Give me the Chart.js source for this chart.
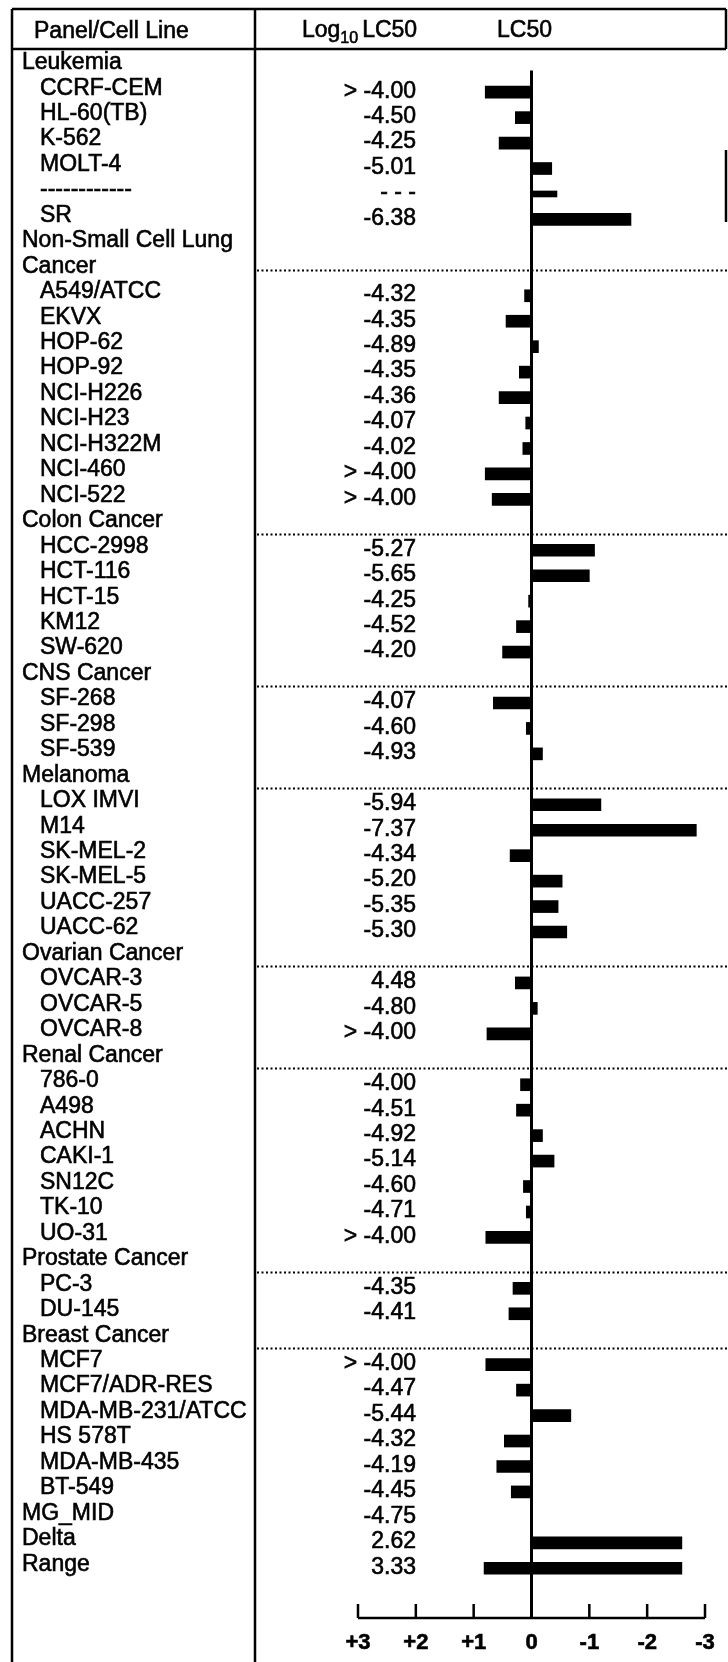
<!DOCTYPE html>
<html>
<head>
<meta charset="utf-8">
<script src="https://cdn.jsdelivr.net/npm/chart.js@4.4.1/dist/chart.umd.min.js"></script>
<style>
  body { margin: 0; background: #fff; }
  #wrap { width: 728px; height: 1662px; }
</style>
</head>
<body>
<div id="wrap"><canvas id="meanGraph" width="728" height="1662"></canvas></div>
<script>
// rows of the table, top to bottom
const rowLabels = [
  'Leukemia', 'CCRF-CEM', 'HL-60(TB)', 'K-562', 'MOLT-4', '------------', 'SR',
  'Non-Small Cell Lung', 'Cancer', 'A549/ATCC', 'EKVX', 'HOP-62', 'HOP-92', 'NCI-H226',
  'NCI-H23', 'NCI-H322M', 'NCI-460', 'NCI-522',
  'Colon Cancer', 'HCC-2998', 'HCT-116', 'HCT-15', 'KM12', 'SW-620',
  'CNS Cancer', 'SF-268', 'SF-298', 'SF-539',
  'Melanoma', 'LOX IMVI', 'M14', 'SK-MEL-2', 'SK-MEL-5', 'UACC-257', 'UACC-62',
  'Ovarian Cancer', 'OVCAR-3', 'OVCAR-5', 'OVCAR-8',
  'Renal Cancer', '786-0', 'A498', 'ACHN', 'CAKI-1', 'SN12C', 'TK-10', 'UO-31',
  'Prostate Cancer', 'PC-3', 'DU-145',
  'Breast Cancer', 'MCF7', 'MCF7/ADR-RES', 'MDA-MB-231/ATCC', 'HS 578T', 'MDA-MB-435', 'BT-549',
  'MG_MID', 'Delta', 'Range'
];

const panelNames = [
  'Leukemia', 'Non-Small Cell Lung', 'Cancer', 'Colon Cancer', 'CNS Cancer', 'Melanoma',
  'Ovarian Cancer', 'Renal Cancer', 'Prostate Cancer', 'Breast Cancer', 'MG_MID', 'Delta', 'Range'
];

// Log10 LC50 column, as printed
const logLC50 = [
  '', '> -4.00', '-4.50', '-4.25', '-5.01', '- - -', '-6.38',
  '', '', '-4.32', '-4.35', '-4.89', '-4.35', '-4.36', '-4.07', '-4.02', '> -4.00', '> -4.00',
  '', '-5.27', '-5.65', '-4.25', '-4.52', '-4.20',
  '', '-4.07', '-4.60', '-4.93',
  '', '-5.94', '-7.37', '-4.34', '-5.20', '-5.35', '-5.30',
  '', '4.48', '-4.80', '> -4.00',
  '', '-4.00', '-4.51', '-4.92', '-5.14', '-4.60', '-4.71', '> -4.00',
  '', '-4.35', '-4.41',
  '', '> -4.00', '-4.47', '-5.44', '-4.32', '-4.19', '-4.45',
  '-4.75', '2.62', '3.33'
];

// bar lengths (log units from MG_MID)
const barValues = [
  null, 0.80, 0.28, 0.56, -0.35, -0.44, -1.72,
  null, null, 0.12, 0.44, -0.12, 0.21, 0.56, 0.10, 0.15, 0.80, 0.68,
  null, -1.09, -1.00, 0.05, 0.26, 0.50,
  null, 0.66, 0.09, -0.19,
  null, -1.20, -2.85, 0.37, -0.53, -0.46, -0.61,
  null, 0.28, -0.10, 0.77,
  null, 0.19, 0.26, -0.19, -0.39, 0.14, 0.09, 0.79,
  null, 0.32, 0.39,
  null, 0.79, 0.26, -0.68, 0.47, 0.60, 0.35,
  null, [0, -2.60], [0.82, -2.60]
];

const axisTicks = [3, 2, 1, 0, -1, -2, -3];
const axisTickLabels = ['+3', '+2', '+1', '0', '-1', '-2', '-3'];

const isDashRow = rowLabels.map(l => l.startsWith('---'));
const FONT = '"Liberation Sans", Arial, sans-serif';

// scanned text looks heavy, so fill and lightly stroke it
function inkText(ctx, s, x, y) {
  ctx.fillText(s, x, y);
  ctx.strokeText(s, x, y);
}

const tablePlugin = {
  id: 'tablePlugin',
  beforeDatasetsDraw(chart) {
    const ctx = chart.ctx;
    const y = chart.scales.y;
    const band = (chart.chartArea.bottom - chart.chartArea.top) / rowLabels.length;
    ctx.save();
    ctx.strokeStyle = '#000';
    ctx.lineWidth = 1.8;
    ctx.setLineDash([2, 2.5]);
    rowLabels.forEach((l, i) => {
      let sy = null;
      if (i > 0 && panelNames.includes(l) && !panelNames.includes(rowLabels[i + 1]) && l !== 'Delta' && l !== 'Range') {
        sy = l === 'MG_MID' ? y.getPixelForValue(i) - band * 0.6 : y.getPixelForValue(i) + band * 0.35;
      }
      if (l === 'Cancer') sy = y.getPixelForValue(i);
      if (sy !== null) {
        ctx.beginPath();
        ctx.moveTo(257, Math.round(sy) + 0.5);
        ctx.lineTo(728, Math.round(sy) + 0.5);
        ctx.stroke();
      }
    });
    ctx.restore();
  },
  afterDraw(chart) {
    const ctx = chart.ctx;
    const x = chart.scales.x;
    const y = chart.scales.y;
    const band = (chart.chartArea.bottom - chart.chartArea.top) / rowLabels.length;
    ctx.save();
    ctx.strokeStyle = '#000';
    ctx.fillStyle = '#000';

    // frame
    ctx.lineWidth = 2.5;
    ctx.beginPath();
    ctx.moveTo(12, 9); ctx.lineTo(726, 9);
    ctx.moveTo(12, 49); ctx.lineTo(726, 49);
    ctx.moveTo(12, 9); ctx.lineTo(12, 1662);
    ctx.moveTo(255, 9); ctx.lineTo(255, 1662);
    ctx.moveTo(726, 9); ctx.lineTo(726, 49);
    ctx.moveTo(726, 150); ctx.lineTo(726, 222);
    ctx.stroke();

    // header
    ctx.lineWidth = 0.6;
    ctx.font = '23px ' + FONT;
    ctx.textBaseline = 'alphabetic';
    ctx.textAlign = 'left';
    inkText(ctx, 'Panel/Cell Line', 34, 38);
    inkText(ctx, 'Log', 302, 37);
    let hx = 302 + ctx.measureText('Log').width;
    ctx.font = '16px ' + FONT;
    inkText(ctx, '10', hx, 43);
    hx += ctx.measureText('10').width + 4;
    ctx.font = '23px ' + FONT;
    inkText(ctx, 'LC50', hx, 37);
    inkText(ctx, 'LC50', 497, 37);

    // names and values
    ctx.textBaseline = 'middle';
    rowLabels.forEach((l, i) => {
      const py = y.getPixelForValue(i);
      ctx.textAlign = 'left';
      inkText(ctx, l, panelNames.includes(l) ? 22 : 40, py - 4);
      ctx.textAlign = 'right';
      if (logLC50[i]) inkText(ctx, logLC50[i], 416, py - 1);
    });

    // zero line
    const x0 = x.getPixelForValue(0);
    const axisY = 1618;
    ctx.lineWidth = 3;
    ctx.beginPath();
    ctx.moveTo(x0, y.getPixelForValue(1) - band * 0.85);
    ctx.lineTo(x0, axisY);
    ctx.stroke();

    // bottom axis
    ctx.lineWidth = 2.5;
    ctx.beginPath();
    ctx.moveTo(x.getPixelForValue(3), axisY);
    ctx.lineTo(x.getPixelForValue(-3), axisY);
    axisTicks.forEach(t => {
      const tx = x.getPixelForValue(t);
      ctx.moveTo(tx, axisY);
      ctx.lineTo(tx, axisY - 14);
    });
    ctx.stroke();
    ctx.lineWidth = 0.6;
    ctx.font = 'bold 22px ' + FONT;
    ctx.textAlign = 'center';
    axisTicks.forEach((t, k) => {
      inkText(ctx, axisTickLabels[k], x.getPixelForValue(t), 1643);
    });
    ctx.restore();
  }
};

new Chart(document.getElementById('meanGraph').getContext('2d'), {
  type: 'bar',
  data: {
    labels: rowLabels,
    datasets: [{
      data: barValues.map((v, i) => isDashRow[i] ? null : v),
      backgroundColor: '#000',
      barThickness: 12,
      grouped: false
    }, {
      data: barValues.map((v, i) => isDashRow[i] ? v : null),
      backgroundColor: '#000',
      barThickness: 6,
      grouped: false
    }]
  },
  options: {
    indexAxis: 'y',
    responsive: false,
    animation: false,
    layout: { padding: { left: 358, right: 23, top: 54, bottom: 81 } },
    scales: {
      x: { type: 'linear', min: -3, max: 3, reverse: true, display: false },
      y: { display: false, offset: true }
    },
    plugins: { legend: { display: false }, tooltip: { enabled: false } }
  },
  plugins: [tablePlugin]
});
</script>
</body>
</html>
